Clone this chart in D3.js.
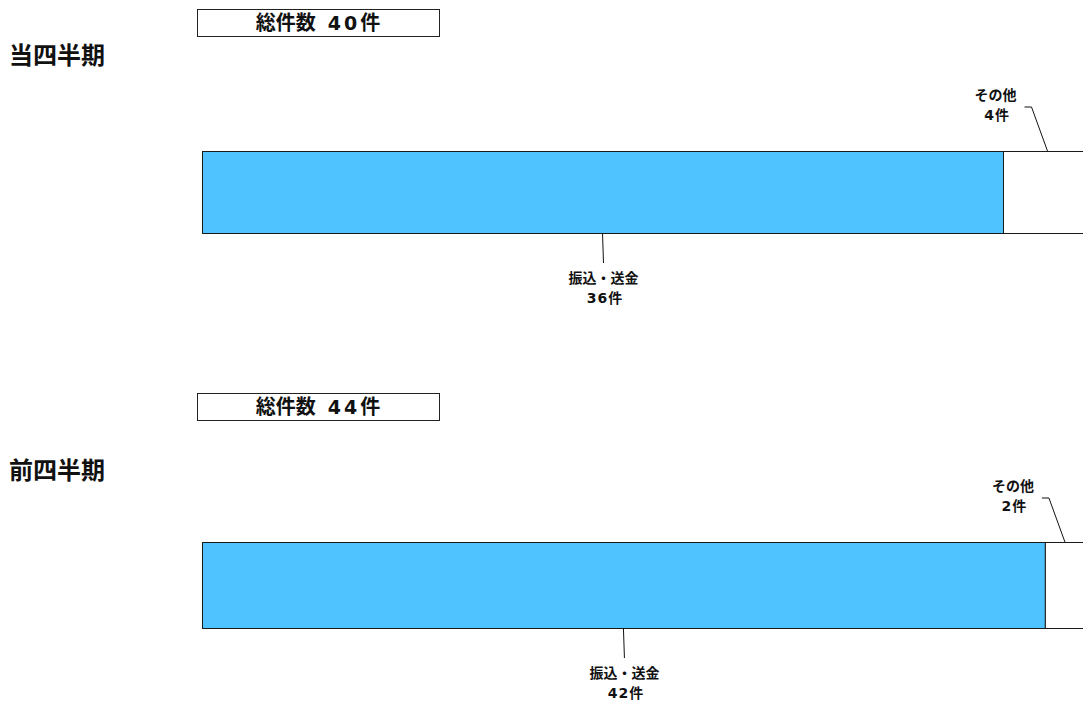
<!DOCTYPE html>
<html lang="ja">
<head>
<meta charset="utf-8">
<script src="https://cdn.jsdelivr.net/npm/d3@7"></script>
<style>
  html, body { margin: 0; padding: 0; background: #fff; overflow: hidden; }
  svg { display: block; font-family: "Noto Sans CJK JP", "Noto Sans", sans-serif; }
  .num { font-family: "DejaVu Sans", sans-serif; }
</style>
</head>
<body>
<svg id="chart" width="1083" height="704"></svg>
<script>
// Periods and their category counts
const periods = ["当四半期", "前四半期"];
const categories = ["振込・送金", "その他"];
const transferCounts = [36, 42];
const otherCounts = [4, 2];
const unit = "件";

const svg = d3.select("#chart");

// Layout of each period panel
const layout = [
  { boxY: 9.5,  titleY: 64,  barY: 151, barH: 82, xEnd: 1092 },
  { boxY: 393.5, titleY: 479, barY: 542, barH: 86, xEnd: 1085 }
];
const barColor = ["#4fc3ff", "#ffffff"];

// Writes "<number>件" into a text element, with the number in a wider face
function countText(sel, n, size, spacing, gap) {
  sel.append("tspan").attr("class", "num").attr("font-size", size)
    .attr("dx", gap || 0)
    .attr("letter-spacing", spacing).text(n);
  sel.append("tspan").text(unit);
}

periods.forEach((period, i) => {
  const L = layout[i];
  const values = [transferCounts[i], otherCounts[i]];
  const total = d3.sum(values);
  const g = svg.append("g");

  // Total count box
  g.append("rect")
    .attr("x", 197.5).attr("y", L.boxY).attr("width", 242).attr("height", 27)
    .attr("fill", "#fff").attr("stroke", "#222").attr("stroke-width", 1);
  const tt = g.append("text")
    .attr("x", 318).attr("y", L.boxY + 20)
    .attr("text-anchor", "middle")
    .attr("font-size", 20).attr("font-weight", "bold").attr("fill", "#111");
  tt.append("tspan").text("総件数");
  countText(tt, total, 19, 3, 12);

  // Period title
  g.append("text")
    .attr("x", 9).attr("y", L.titleY)
    .attr("font-size", 24).attr("font-weight", "bold").attr("fill", "#111")
    .text(period);

  // Horizontal scale spanning the full total
  const x = d3.scaleLinear().domain([0, total]).range([202, L.xEnd]);
  const barY = L.barY, barH = L.barH;

  const stack = [];
  let acc = 0;
  values.forEach((v, k) => { stack.push({ cat: categories[k], v, x0: acc, x1: acc + v }); acc += v; });

  g.selectAll("rect.seg").data(stack).join("rect")
    .attr("class", "seg")
    .attr("x", d => x(d.x0) + 0.5)
    .attr("y", barY + 0.5)
    .attr("width", d => x(d.x1) - x(d.x0))
    .attr("height", barH)
    .attr("fill", (d, k) => barColor[k])
    .attr("stroke", "#1a1a1a").attr("stroke-width", 1);

  // Label for the main segment, below the bar
  const s0 = stack[0];
  const c0 = (x(s0.x0) + x(s0.x1)) / 2;
  g.append("line")
    .attr("x1", c0).attr("y1", barY + barH)
    .attr("x2", c0 + 1).attr("y2", barY + barH + 30)
    .attr("stroke", "#111").attr("stroke-width", 1);
  g.append("text")
    .attr("x", c0 + 1).attr("y", barY + barH + 50)
    .attr("text-anchor", "middle")
    .attr("font-size", 14).attr("font-weight", "bold").attr("fill", "#111")
    .text(s0.cat);
  const n0 = g.append("text")
    .attr("x", c0 + 2).attr("y", barY + barH + 70)
    .attr("text-anchor", "middle")
    .attr("font-size", 14).attr("font-weight", "bold").attr("fill", "#111");
  countText(n0, s0.v, 14, 1);

  // Label for the small segment, above the bar with a bent leader
  const s1 = stack[1];
  const c1 = (x(s1.x0) + x(s1.x1)) / 2;
  const elbowX = c1 - 16, elbowY = barY - 44;
  g.append("path")
    .attr("d", `M${c1},${barY} L${elbowX},${elbowY} L${elbowX - 7},${elbowY}`)
    .attr("fill", "none").attr("stroke", "#111").attr("stroke-width", 1);
  g.append("text")
    .attr("x", elbowX - 36).attr("y", elbowY - 7)
    .attr("text-anchor", "middle")
    .attr("font-size", 14).attr("font-weight", "bold").attr("fill", "#111")
    .text(s1.cat);
  const n1 = g.append("text")
    .attr("x", elbowX - 35).attr("y", elbowY + 13)
    .attr("text-anchor", "middle")
    .attr("font-size", 14).attr("font-weight", "bold").attr("fill", "#111");
  countText(n1, s1.v, 14, 1);
});
</script>
</body>
</html>
